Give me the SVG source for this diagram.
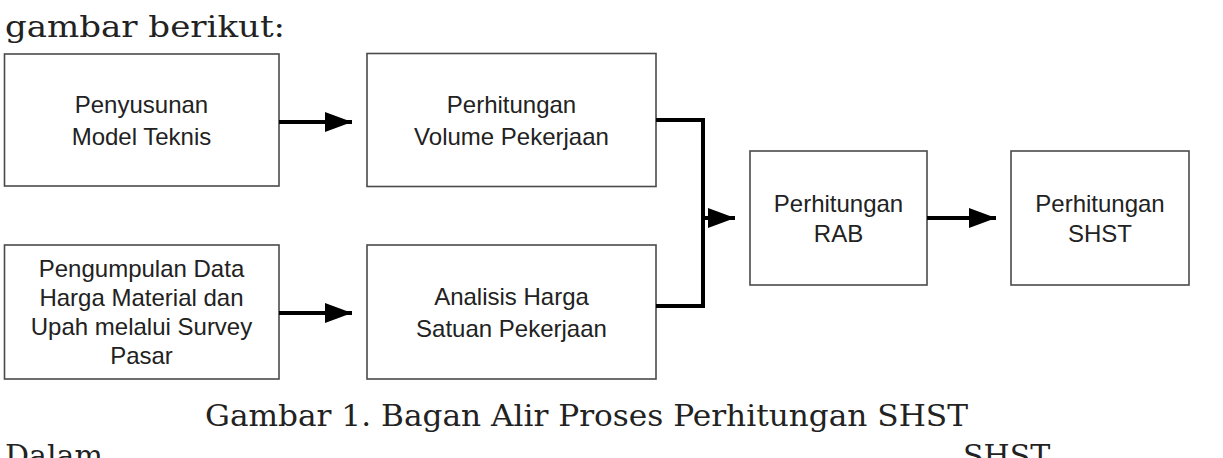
<svg xmlns="http://www.w3.org/2000/svg" width="1223" height="458" viewBox="0 0 1223 458">
<style>
.box{fill:#fff;stroke:#4a4a4a;stroke-width:1.6}
.lbl{font-family:"Liberation Sans",Arial,sans-serif;font-size:24px;fill:#222;text-anchor:middle}
.ser{font-family:"DejaVu Serif","Liberation Serif",serif;font-size:30px;fill:#222}
.con{fill:none;stroke:#000;stroke-width:4}
</style>
<defs>
<marker id="ah" markerUnits="userSpaceOnUse" markerWidth="27" markerHeight="20" refX="27" refY="10" orient="auto" viewBox="0 0 27 20">
<path d="M0,0 L27,10 L0,20 z" fill="#000"/>
</marker>
</defs>
<rect width="1223" height="458" fill="#fff"/>
<text class="ser" x="5" y="37" textLength="280" lengthAdjust="spacingAndGlyphs">gambar berikut:</text>
<g id="n1"><rect class="box" x="4.5" y="54" width="274.5" height="132"/>
<text class="lbl" x="141.5" y="113">Penyusunan</text><text class="lbl" x="141.5" y="145">Model Teknis</text></g>
<g id="n2"><rect class="box" x="367" y="53.5" width="289" height="133"/>
<text class="lbl" x="511.5" y="113">Perhitungan</text><text class="lbl" x="511.5" y="145">Volume Pekerjaan</text></g>
<g id="n3"><rect class="box" x="4.5" y="245" width="274.5" height="134"/>
<text class="lbl" x="141.5" y="277">Pengumpulan Data</text><text class="lbl" x="141.5" y="306">Harga Material dan</text><text class="lbl" x="141.5" y="335">Upah melalui Survey</text><text class="lbl" x="141.5" y="364">Pasar</text></g>
<g id="n4"><rect class="box" x="367" y="245" width="289" height="134"/>
<text class="lbl" x="511.5" y="305">Analisis Harga</text><text class="lbl" x="511.5" y="337">Satuan Pekerjaan</text></g>
<g id="n5"><rect class="box" x="750" y="151" width="177" height="134"/>
<text class="lbl" x="838.5" y="212">Perhitungan</text><text class="lbl" x="838.5" y="242">RAB</text></g>
<g id="n6"><rect class="box" x="1011" y="151" width="178" height="134"/>
<text class="lbl" x="1100" y="212">Perhitungan</text><text class="lbl" x="1100" y="242">SHST</text></g>
<g id="connectors">
<path class="con" d="M279,122 H352" marker-end="url(#ah)"/>
<path class="con" d="M279,313 H352" marker-end="url(#ah)"/>
<path class="con" d="M656,120 H703 V306 H656" stroke-linejoin="miter"/>
<path class="con" d="M703,218 H735" marker-end="url(#ah)"/>
<path class="con" d="M927,218 H996" marker-end="url(#ah)"/>
</g>
<text class="ser" x="205" y="426" textLength="763" lengthAdjust="spacingAndGlyphs">Gambar 1. Bagan Alir Proses Perhitungan SHST</text>
<text class="ser" x="5" y="466">Dalam</text>
<text class="ser" x="963" y="466">SHST</text>
</svg>
